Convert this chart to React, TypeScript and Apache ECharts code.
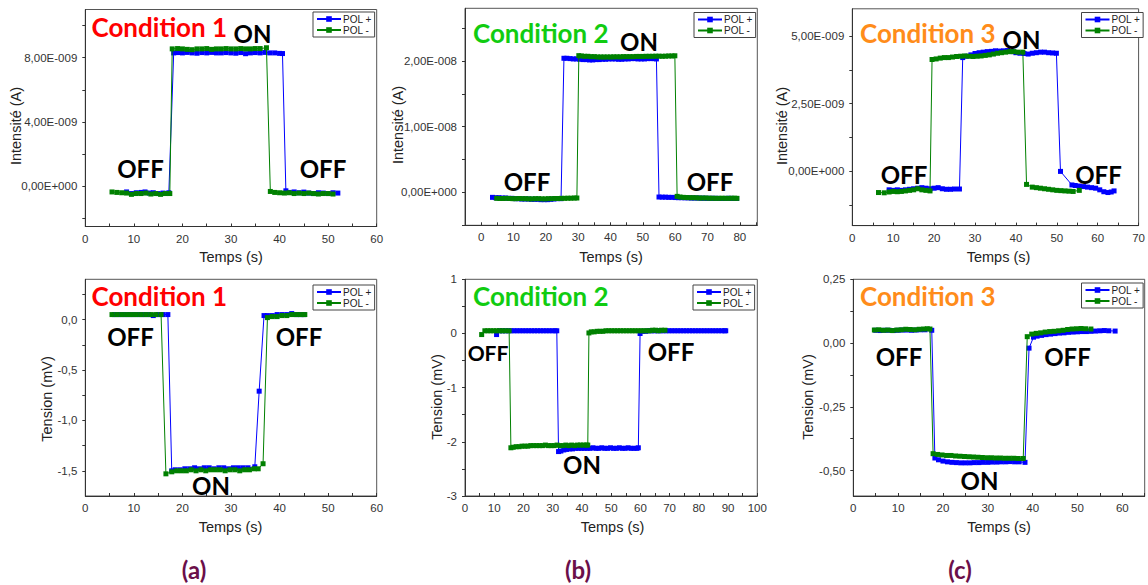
import React, { useEffect, useRef } from "react";
import * as echarts from "echarts";

// ---------- DATA (time in s; current in nA; voltage in mV) ----------
const NANO = 1e-9;

// Panel (a) top: Intensité, Condition 1
const a1PolPlus: number[][] = [
  [8.5, -0.35], [9.5, -0.45], [10.5, -0.4], [11.5, -0.38], [12.3, -0.35], [13.2, -0.42], [14.0, -0.4], [15.0, -0.45], [16.0, -0.42], [17.2, -0.4],
  [18.2, 8.3], [19, 8.32], [20, 8.3], [21, 8.33], [22, 8.3], [23, 8.28], [24, 8.32], [25, 8.3], [26, 8.33], [27, 8.3], [28, 8.3], [29, 8.32],
  [30, 8.3], [31, 8.28], [32, 8.32], [33, 8.25], [34, 8.3], [35, 8.32], [36, 8.3], [37, 8.33], [38, 8.3], [39, 8.3], [40, 8.27], [40.6, 8.26],
  [41.3, -0.28], [42, -0.38], [43, -0.35], [44, -0.4], [45, -0.36], [46, -0.42], [47, -0.45], [48, -0.4], [49, -0.42], [50, -0.45], [51, -0.4], [52, -0.42],
];
const a1PolMinus: number[][] = [
  [5.5, -0.35], [6.5, -0.38], [7.5, -0.4], [8.5, -0.42], [9.5, -0.5], [10.5, -0.45], [11.5, -0.45], [12.5, -0.42], [13.5, -0.48], [14.5, -0.45], [15.5, -0.5], [16.5, -0.45], [17.4, -0.45],
  [17.9, 8.55], [19, 8.57], [20, 8.55], [21, 8.52], [22, 8.5], [23, 8.55], [24, 8.55], [25, 8.57], [26, 8.52], [27, 8.55], [28, 8.55], [29, 8.57],
  [30, 8.55], [31, 8.55], [32, 8.57], [33, 8.55], [34, 8.55], [35, 8.57], [36, 8.57], [37.3, 8.62],
  [38.1, -0.32], [39, -0.38], [40, -0.4], [41, -0.42], [42, -0.4], [43, -0.45], [44, -0.42], [45, -0.45], [46, -0.42], [47, -0.45], [48, -0.48], [49, -0.45], [50, -0.45], [51, -0.48],
];

// Panel (b) top: Intensité, Condition 2
const b1PolPlus: number[][] = [
  [3.5, -0.75], [4.5, -0.8], [5.5, -0.8], [6.5, -0.85], [7.5, -0.85], [8.5, -0.9], [9.5, -0.9], [10.5, -0.95], [11.5, -0.95], [12.5, -1.0], [13.5, -1.0],
  [14.5, -1.0], [15.5, -1.05], [16.5, -1.05], [17.5, -1.05], [18.5, -1.1], [19.5, -1.1], [20.5, -1.1], [21.5, -1.05], [22.5, -1.0], [23.5, -0.95], [24.7, -0.95],
  [25.6, 20.4], [26.5, 20.4], [27.5, 20.35], [28.5, 20.3], [29.5, 20.3], [30.5, 20.25], [31.5, 20.2], [32.5, 20.2], [33.5, 20.15], [34.5, 20.15], [35.5, 20.2],
  [36.5, 20.2], [37.5, 20.25], [38.5, 20.25], [39.5, 20.3], [40.5, 20.3], [41.5, 20.3], [42.5, 20.25], [43.5, 20.25], [44.5, 20.3], [45.5, 20.3], [46.5, 20.35],
  [47.5, 20.35], [48.5, 20.3], [49.5, 20.3], [50.5, 20.3], [51.5, 20.35], [52.5, 20.35], [53.5, 20.35], [54.2, 20.3],
  [55.0, -0.7], [56, -0.72], [57, -0.72], [58, -0.75], [59, -0.75], [60, -0.78], [61, -0.8], [62, -0.8], [63, -0.82], [64, -0.82], [65, -0.85], [66, -0.85],
  [67, -0.85], [68, -0.88], [69, -0.88], [70, -0.9], [71, -0.9], [72, -0.9], [73, -0.9], [74, -0.92], [75, -0.92], [76, -0.9], [77, -0.9], [78, -0.92], [79, -0.92],
];
const b1PolMinus: number[][] = [
  [4.8, -0.9], [5.8, -0.92], [6.8, -0.92], [7.8, -0.9], [8.8, -0.92], [9.8, -0.95], [10.8, -0.95], [11.8, -0.92], [12.8, -0.95], [13.8, -0.95], [14.8, -0.98],
  [15.8, -0.98], [16.8, -0.95], [17.8, -0.95], [18.8, -0.98], [19.8, -0.98], [20.8, -0.95], [21.8, -0.95], [22.8, -0.92], [23.8, -0.92], [24.8, -0.9], [25.8, -0.9],
  [26.8, -0.88], [27.8, -0.88], [28.8, -0.85], [29.6, -0.85],
  [30.2, 20.8], [31, 20.75], [32, 20.7], [33, 20.7], [34, 20.65], [35, 20.65], [36, 20.6], [37, 20.6], [38, 20.6], [39, 20.6], [40, 20.6], [41, 20.62],
  [42, 20.62], [43, 20.62], [44, 20.65], [45, 20.65], [46, 20.65], [47, 20.65], [48, 20.68], [49, 20.68], [50, 20.68], [51, 20.7], [52, 20.7], [53, 20.7],
  [54, 20.72], [55, 20.72], [56, 20.7], [57, 20.72], [58, 20.75], [59, 20.75], [59.9, 20.78],
  [60.6, -0.6], [61.5, -0.7], [62.5, -0.75], [63.5, -0.78], [64.5, -0.8], [65.5, -0.8], [66.5, -0.82], [67.5, -0.85], [68.5, -0.85], [69.5, -0.85],
  [70.5, -0.88], [71.5, -0.88], [72.5, -0.9], [73.5, -0.9], [74.5, -0.88], [75.5, -0.9], [76.5, -0.9], [77.5, -0.88], [78.4, -0.88], [79.1, -0.9],
];

// Panel (c) top: Intensité, Condition 3
const c1PolPlus: number[][] = [
  [9.0, -0.68], [10, -0.7], [11, -0.68], [12, -0.7], [13, -0.68], [14, -0.66], [15, -0.64], [16, -0.62], [17, -0.6], [18, -0.62], [19, -0.64],
  [20, -0.62], [21, -0.6], [22, -0.64], [23, -0.66], [24, -0.66], [25, -0.65], [26.2, -0.65],
  [27.0, 4.2], [28, 4.25], [29, 4.3], [30, 4.35], [31, 4.38], [32, 4.4], [33, 4.42], [34, 4.43], [35, 4.45], [36, 4.44], [37, 4.45], [38, 4.46],
  [39, 4.42], [40, 4.38], [41, 4.36], [42, 4.35], [43, 4.33], [44, 4.36], [45, 4.38], [46, 4.4], [47, 4.4], [48, 4.38], [49, 4.37], [49.9, 4.36],
  [50.9, 0.0], [53.7, -0.5], [54.5, -0.52], [55.5, -0.54], [56.5, -0.56], [57.5, -0.58], [58.5, -0.6], [59.5, -0.62], [60.5, -0.68], [61.5, -0.75],
  [62.5, -0.78], [63.3, -0.76], [64.0, -0.72],
];
const c1PolMinus: number[][] = [
  [6.4, -0.78], [7.8, -0.79], [9, -0.76], [10, -0.74], [11, -0.75], [12, -0.74], [13, -0.72], [14, -0.7], [15, -0.68], [16, -0.64], [17, -0.68], [18, -0.7], [19, -0.72],
  [19.5, 4.13], [20.5, 4.15], [21.5, 4.18], [22.5, 4.2], [23.5, 4.2], [24.5, 4.22], [25.5, 4.24], [26.5, 4.25], [27.5, 4.26], [28.5, 4.25], [29.5, 4.24],
  [30.5, 4.25], [31.5, 4.26], [32.5, 4.28], [33.5, 4.3], [34.5, 4.33], [35.5, 4.36], [36.5, 4.38], [37.5, 4.4], [38.5, 4.42], [39.5, 4.42], [40.5, 4.4], [41.7, 4.4],
  [42.6, -0.48], [44, -0.58], [45, -0.6], [46, -0.62], [47, -0.64], [48, -0.66], [49, -0.68], [50, -0.7], [51, -0.71], [52, -0.72], [53, -0.73], [54, -0.74], [55.5, -0.7],
];

// Panel (a) bottom: Tension, Condition 1
const a2PolPlus: number[][] = [
  [6, 0.05], [7, 0.05], [8, 0.05], [9, 0.05], [10, 0.05], [11, 0.05], [12, 0.05], [13, 0.05], [14, 0.04], [15, 0.05], [16, 0.05], [17, 0.05],
  [17.8, -1.5], [18.5, -1.49], [19.5, -1.49], [20.5, -1.48], [21.5, -1.48], [22.5, -1.47], [23.5, -1.48], [24.5, -1.47], [25.5, -1.47], [26.5, -1.48],
  [27.5, -1.47], [28.5, -1.47], [29.5, -1.48], [30.5, -1.47], [31.5, -1.47], [32.5, -1.47], [33.5, -1.47], [34.9, -1.46],
  [35.8, -0.71], [36.8, 0.04], [37.5, 0.04], [38.5, 0.04], [39.5, 0.05], [40.5, 0.05], [41.5, 0.05], [42.5, 0.06], [43.5, 0.05], [44.3, 0.05], [45.0, 0.05],
];
const a2PolMinus: number[][] = [
  [5.5, 0.05], [6.5, 0.05], [7.5, 0.05], [8.5, 0.05], [9.5, 0.05], [10.5, 0.05], [11.5, 0.05], [12.5, 0.05], [13.5, 0.05], [14.5, 0.05], [15.6, 0.05],
  [16.6, -1.53], [17.8, -1.51], [18.8, -1.5], [19.8, -1.5], [20.8, -1.5], [21.8, -1.49], [22.8, -1.5], [23.8, -1.49], [24.8, -1.5], [25.8, -1.49],
  [26.8, -1.49], [27.8, -1.49], [28.8, -1.5], [29.8, -1.49], [30.8, -1.49], [31.8, -1.5], [32.8, -1.49], [33.8, -1.49], [34.8, -1.48], [35.6, -1.48],
  [36.6, -1.43], [37.5, 0.02], [38.5, 0.03], [39.5, 0.03], [40.5, 0.04], [41.5, 0.04], [42.5, 0.05], [43.5, 0.05], [44.5, 0.05], [45.2, 0.05],
];

// Panel (b) bottom: Tension, Condition 2
const b2PolPlus: number[][] = [
  [10.8, -0.02], [11.8, 0.05], [12.8, 0.05], [13.8, 0.05], [14.8, 0.05], [15.8, 0.05], [16.8, 0.05], [17.8, 0.05], [18.8, 0.05], [19.8, 0.05], [20.8, 0.05],
  [21.8, 0.05], [22.8, 0.05], [23.8, 0.05], [24.8, 0.05], [25.8, 0.05], [26.8, 0.05], [27.8, 0.05], [28.8, 0.05], [29.8, 0.05], [30.8, 0.05], [31.4, 0.05],
  [32.0, -2.18], [32.8, -2.17], [33.8, -2.15], [34.8, -2.14], [35.8, -2.13], [36.8, -2.13], [37.8, -2.12], [38.8, -2.12], [39.8, -2.12], [40.8, -2.12],
  [41.8, -2.12], [42.8, -2.12], [43.8, -2.11], [44.8, -2.12], [45.8, -2.12], [46.8, -2.11], [47.8, -2.12], [48.8, -2.12], [49.8, -2.11], [50.8, -2.12],
  [51.8, -2.12], [52.8, -2.11], [53.8, -2.12], [54.8, -2.12], [55.8, -2.11], [56.8, -2.12], [57.8, -2.12], [58.8, -2.12], [59.3, -2.11],
  [59.9, 0.0], [60.8, 0.04], [61.8, 0.04], [62.8, 0.05], [63.8, 0.05], [64.8, 0.05], [65.8, 0.05], [66.8, 0.05], [67.8, 0.05], [68.8, 0.05], [69.8, 0.05],
  [70.8, 0.05], [71.8, 0.05], [72.8, 0.05], [73.8, 0.05], [74.8, 0.05], [75.8, 0.05], [76.8, 0.05], [77.8, 0.05], [78.8, 0.05], [79.8, 0.05], [80.8, 0.05],
  [81.8, 0.05], [82.8, 0.05], [83.8, 0.05], [84.8, 0.05], [85.8, 0.05], [86.8, 0.05], [87.8, 0.05], [88.8, 0.05], [89.2, 0.05],
];
const b2PolMinus: number[][] = [
  [5.7, -0.02], [6.8, 0.05], [7.8, 0.05], [8.8, 0.05], [9.8, 0.05], [10.8, 0.05], [11.8, 0.05], [12.8, 0.05], [13.8, 0.05], [15.1, 0.05],
  [15.7, -2.11], [16.5, -2.1], [17.5, -2.09], [18.5, -2.09], [19.5, -2.08], [20.5, -2.08], [21.5, -2.08], [22.5, -2.07], [23.5, -2.07], [24.5, -2.07],
  [25.5, -2.07], [26.5, -2.07], [27.5, -2.06], [28.5, -2.07], [29.5, -2.07], [30.5, -2.07], [31.5, -2.06], [32.5, -2.07], [33.5, -2.07], [34.5, -2.06],
  [35.5, -2.07], [36.5, -2.06], [37.5, -2.07], [38.5, -2.06], [39.5, -2.06], [40.5, -2.06], [41.5, -2.06], [42.0, -2.06],
  [42.4, 0.01], [43.2, 0.03], [44.2, 0.03], [45.2, 0.04], [46.2, 0.04], [47.2, 0.04], [48.2, 0.05], [49.2, 0.05], [50.2, 0.05], [51.2, 0.05], [52.2, 0.05],
  [53.2, 0.05], [54.2, 0.05], [55.2, 0.05], [56.2, 0.05], [57.2, 0.05], [58.2, 0.05], [59.2, 0.05], [60.2, 0.05], [61.2, 0.05], [62.2, 0.05], [63.2, 0.05],
  [64.2, 0.06], [65.2, 0.06], [66.2, 0.05], [67.2, 0.06], [68.4, 0.06],
];

// Panel (c) bottom: Tension, Condition 3
const c2PolPlus: number[][] = [
  [5.0, 0.05], [6, 0.049], [7, 0.05], [8, 0.05], [9, 0.049], [10, 0.05], [11, 0.051], [12, 0.051], [13, 0.05], [14, 0.051], [15, 0.052], [16, 0.052], [17.5, 0.05],
  [18.2, -0.451], [19, -0.458], [20, -0.463], [21, -0.466], [22, -0.468], [23, -0.469], [24, -0.47], [25, -0.47], [26, -0.47], [27, -0.469], [28, -0.469],
  [29, -0.468], [30, -0.468], [31, -0.467], [32, -0.467], [33, -0.466], [34, -0.466], [35, -0.465], [36, -0.466], [37, -0.466], [38.3, -0.468],
  [39.2, -0.02], [40.2, 0.023], [41, 0.027], [42, 0.03], [43, 0.033], [44, 0.035], [45, 0.037], [46, 0.039], [47, 0.04], [48, 0.042], [49, 0.043],
  [50, 0.044], [51, 0.045], [52, 0.045], [53, 0.046], [54, 0.047], [55, 0.048], [56, 0.049], [57, 0.048], [58.4, 0.047],
];
const c2PolMinus: number[][] = [
  [4.7, 0.051], [5.7, 0.052], [6.7, 0.05], [7.7, 0.051], [8.7, 0.049], [9.7, 0.051], [10.7, 0.052], [11.7, 0.054], [12.7, 0.053], [13.7, 0.052],
  [14.7, 0.054], [15.7, 0.055], [16.5, 0.056], [17.1, 0.055],
  [17.8, -0.434], [18.8, -0.437], [19.8, -0.439], [20.8, -0.441], [21.8, -0.441], [22.8, -0.443], [23.8, -0.444], [24.8, -0.445], [25.8, -0.446],
  [26.8, -0.447], [27.8, -0.448], [28.8, -0.449], [29.8, -0.45], [30.8, -0.45], [31.8, -0.451], [32.8, -0.451], [33.8, -0.452], [34.8, -0.452],
  [35.8, -0.452], [36.8, -0.453], [37.9, -0.453],
  [38.8, 0.025], [39.8, 0.035], [40.8, 0.038], [41.8, 0.04], [42.8, 0.043], [43.8, 0.045], [44.8, 0.046], [45.8, 0.048], [46.8, 0.05], [47.8, 0.053],
  [48.8, 0.055], [49.8, 0.056], [50.8, 0.057], [51.8, 0.056], [53.0, 0.055],
];

// ---------- TICKS ----------
const xLabels60 = [0, 10, 20, 30, 40, 50, 60];
const xTicks60 = [0, 5, 10, 15, 20, 25, 30, 35, 40, 45, 50, 55, 60];
const xTicks65 = [0, 5, 10, 15, 20, 25, 30, 35, 40, 45, 50, 55, 60, 65];
const xLabels80 = [0, 10, 20, 30, 40, 50, 60, 70, 80];
const xTicks85 = [-5, 0, 5, 10, 15, 20, 25, 30, 35, 40, 45, 50, 55, 60, 65, 70, 75, 80, 85];
const xLabels70 = [0, 10, 20, 30, 40, 50, 60, 70];
const xTicks70 = [0, 5, 10, 15, 20, 25, 30, 35, 40, 45, 50, 55, 60, 65, 70];
const xLabels100 = [0, 10, 20, 30, 40, 50, 60, 70, 80, 90, 100];
const xTicks100 = [0, 5, 10, 15, 20, 25, 30, 35, 40, 45, 50, 55, 60, 65, 70, 75, 80, 85, 90, 95, 100];

const yLabelsA1 = [0, 4e-9, 8e-9];
const yTicksA1 = [-2e-9, 0, 2e-9, 4e-9, 6e-9, 8e-9, 1e-8];
const yLabelsB1 = [0, 1e-8, 2e-8];
const yTicksB1 = [-5e-9, 0, 5e-9, 1e-8, 1.5e-8, 2e-8, 2.5e-8];
const yLabelsC1 = [0, 2.5e-9, 5e-9];
const yTicksC1 = [-1.25e-9, 0, 1.25e-9, 2.5e-9, 3.75e-9, 5e-9];
const yLabelsA2 = [0, -0.5, -1, -1.5];
const yTicksA2 = [0.25, 0, -0.25, -0.5, -0.75, -1, -1.25, -1.5];
const yLabelsB2 = [1, 0, -1, -2, -3];
const yTicksB2 = [1, 0.5, 0, -0.5, -1, -1.5, -2, -2.5, -3];
const yLabelsC2 = [0.25, 0, -0.25, -0.5];
const yTicksC2 = [0.25, 0.125, 0, -0.125, -0.25, -0.375, -0.5];

const seriesNames = ["POL +", "POL -"];

// ---------- helpers ----------
function eFmt(v: number): string {
  if (Math.abs(v) < 1e-20) return "0,00E+000";
  let e = Math.floor(Math.log10(Math.abs(v)) + 1e-9);
  let m = v / Math.pow(10, e);
  if (Math.abs(m) >= 9.995) { m /= 10; e += 1; }
  const exp = String(Math.abs(e)).padStart(3, "0");
  return m.toFixed(2).replace(".", ",") + "E" + (e < 0 ? "-" : "+") + exp;
}
const fixedFmt = (d: number) => (v: number) =>
  (Math.abs(v) < 1e-12 ? 0 : v).toFixed(d).replace(".", ",");
const toAmp = (arr: number[][]) => arr.map(([x, y]) => [x, y * NANO]);

const BLUE = "#0000ff";
const GREEN = "#008000";
const AX = "#333333";
const LABEL_FONT = "'Liberation Sans', Arial, sans-serif";
const BIG_FONT = "Lato, 'Open Sans', sans-serif";

type Panel = {
  plus: number[][];
  minus: number[][];
  grid: { left: number; top: number; width: number; height: number };
  x: { min: number; max: number; labels: number[]; ticks: number[] };
  y: { min: number; max: number; labels: number[]; ticks: number[]; fmt: (v: number) => string };
  legend: { left: number; top: number };
};

const panels: Panel[] = [
  {
    plus: toAmp(a1PolPlus), minus: toAmp(a1PolMinus),
    grid: { left: 85.3, top: 9.5, width: 291.4, height: 217 },
    x: { min: 0, max: 60, labels: xLabels60, ticks: xTicks60 },
    y: { min: -2.5e-9, max: 1.1e-8, labels: yLabelsA1, ticks: yTicksA1, fmt: eFmt },
    legend: { left: 313, top: 12 },
  },
  {
    plus: toAmp(b1PolPlus), minus: toAmp(b1PolMinus),
    grid: { left: 465, top: 8.3, width: 292.3, height: 217 },
    x: { min: -5, max: 85.4, labels: xLabels80, ticks: xTicks85 },
    y: { min: -5e-9, max: 2.8e-8, labels: yLabelsB1, ticks: yTicksB1, fmt: eFmt },
    legend: { left: 694, top: 12.5 },
  },
  {
    plus: toAmp(c1PolPlus), minus: toAmp(c1PolMinus),
    grid: { left: 852.3, top: 8.8, width: 292.2, height: 216.8 },
    x: { min: 0, max: 70, labels: xLabels70, ticks: xTicks70 },
    y: { min: -2e-9, max: 6e-9, labels: yLabelsC1, ticks: yTicksC1, fmt: eFmt },
    legend: { left: 1081.5, top: 12.5 },
  },
  {
    plus: a2PolPlus, minus: a2PolMinus,
    grid: { left: 85.3, top: 279.3, width: 291.4, height: 216.7 },
    x: { min: 0, max: 60, labels: xLabels60, ticks: xTicks60 },
    y: { min: -1.75, max: 0.4, labels: yLabelsA2, ticks: yTicksA2, fmt: fixedFmt(1) },
    legend: { left: 313, top: 285 },
  },
  {
    plus: b2PolPlus, minus: b2PolMinus,
    grid: { left: 465, top: 279.3, width: 292.3, height: 216.7 },
    x: { min: 0, max: 100, labels: xLabels100, ticks: xTicks100 },
    y: { min: -3, max: 1, labels: yLabelsB2, ticks: yTicksB2, fmt: fixedFmt(0) },
    legend: { left: 693, top: 285 },
  },
  {
    plus: c2PolPlus, minus: c2PolMinus,
    grid: { left: 853.3, top: 279.3, width: 291.4, height: 216.7 },
    x: { min: 0, max: 65, labels: xLabels60, ticks: xTicks65 },
    y: { min: -0.6, max: 0.25, labels: yLabelsC2, ticks: yTicksC2, fmt: fixedFmt(2) },
    legend: { left: 1081.5, top: 283 },
  },
];

// annotation texts
const conditionTexts = [
  { text: "Condition 1", color: "#ff0000", x: 91.5, y: 27 },
  { text: "Condition 2", color: "#11cc11", x: 473, y: 33 },
  { text: "Condition 3", color: "#ff8c1a", x: 860, y: 33 },
  { text: "Condition 1", color: "#ff0000", x: 91.5, y: 295.5 },
  { text: "Condition 2", color: "#11cc11", x: 473, y: 295.5 },
  { text: "Condition 3", color: "#ff8c1a", x: 860, y: 296 },
];
const stateTexts = [
  { text: "ON", x: 252.5, y: 33.5 },
  { text: "OFF", x: 140.5, y: 168.5 },
  { text: "OFF", x: 323, y: 168.5 },
  { text: "ON", x: 639, y: 41.5 },
  { text: "OFF", x: 527, y: 181.5 },
  { text: "OFF", x: 710, y: 181.5 },
  { text: "ON", x: 1021.5, y: 39.5 },
  { text: "OFF", x: 904, y: 174 },
  { text: "OFF", x: 1098.5, y: 174 },
  { text: "OFF", x: 130.5, y: 336 },
  { text: "OFF", x: 299, y: 336 },
  { text: "ON", x: 211, y: 485.5 },
  { text: "OFF", x: 488, y: 352, size: 21 },
  { text: "OFF", x: 671, y: 351.5 },
  { text: "ON", x: 582, y: 464.5 },
  { text: "OFF", x: 899, y: 356.5 },
  { text: "OFF", x: 1067.5, y: 356.5 },
  { text: "ON", x: 979.5, y: 480.5 },
];
const yTitles = [
  { text: "Intensité (A)", x: 16, y: 126 },
  { text: "Intensité (A)", x: 397.5, y: 125 },
  { text: "Intensité (A)", x: 781.7, y: 126 },
  { text: "Tension (mV)", x: 46.7, y: 399 },
  { text: "Tension (mV)", x: 436.5, y: 397 },
  { text: "Tension (mV)", x: 808.3, y: 397 },
];
const xTitles = [
  { text: "Temps (s)", x: 231, y: 257 },
  { text: "Temps (s)", x: 611, y: 257 },
  { text: "Temps (s)", x: 998.5, y: 257 },
  { text: "Temps (s)", x: 230.5, y: 527 },
  { text: "Temps (s)", x: 612.5, y: 527 },
  { text: "Temps (s)", x: 999, y: 527 },
];
const subLabels = [
  { text: "(a)", x: 194, y: 569 },
  { text: "(b)", x: 578, y: 569 },
  { text: "(c)", x: 960, y: 569 },
];

function buildOption() {
  const grid = panels.map((p) => ({
    ...p.grid,
    show: true,
    borderColor: "#555",
    borderWidth: 1,
    backgroundColor: "transparent",
    containLabel: false,
  }));
  const xAxis = panels.map((p, i) => ({
    type: "value",
    gridIndex: i,
    min: p.x.min,
    max: p.x.max,
    axisLine: { show: true, onZero: false, lineStyle: { color: AX, width: 1 } },
    axisTick: { show: true, inside: true, length: 3, customValues: p.x.ticks, lineStyle: { color: AX } },
    axisLabel: {
      customValues: p.x.labels,
      fontSize: 11.5,
      color: "#333",
      fontFamily: LABEL_FONT,
      margin: 6,
      formatter: (v: number) => String(v),
    },
    splitLine: { show: false },
  }));
  const yAxis = panels.map((p, i) => ({
    type: "value",
    gridIndex: i,
    min: p.y.min,
    max: p.y.max,
    axisLine: { show: true, onZero: false, lineStyle: { color: AX, width: 1 } },
    axisTick: { show: true, inside: false, length: 3, customValues: p.y.ticks, lineStyle: { color: AX } },
    axisLabel: {
      customValues: p.y.labels,
      fontSize: 11.5,
      color: "#333",
      fontFamily: LABEL_FONT,
      margin: 8,
      formatter: p.y.fmt,
    },
    splitLine: { show: false },
  }));
  const series: any[] = [];
  panels.forEach((p, i) => {
    [p.plus, p.minus].forEach((data, k) => {
      const c = k === 0 ? BLUE : GREEN;
      series.push({
        type: "line",
        name: seriesNames[k],
        xAxisIndex: i,
        yAxisIndex: i,
        data,
        symbol: "rect",
        symbolSize: 5,
        showSymbol: true,
        showAllSymbol: true,
        lineStyle: { color: c, width: 1 },
        itemStyle: { color: c },
        emphasis: { disabled: true },
        z: 2 + k,
      });
    });
  });
  const legend = panels.map((p) => ({
    show: true,
    left: p.legend.left,
    top: p.legend.top,
    orient: "vertical",
    itemGap: 1,
    itemWidth: 24,
    itemHeight: 7,
    padding: [2, 3, 2, 3],
    borderColor: "#444",
    borderWidth: 1,
    borderRadius: 0,
    backgroundColor: "#fff",
    selectedMode: false,
    data: seriesNames,
    textStyle: { fontSize: 10, color: "#222", fontFamily: LABEL_FONT, padding: [0, 0, 0, -3] },
  }));

  const graphic: any[] = [];
  conditionTexts.forEach((t) =>
    graphic.push({
      type: "text", x: t.x, y: t.y, z: 10,
      style: { text: t.text, fill: t.color, font: `bold 26px ${BIG_FONT}`, align: "left", verticalAlign: "middle" },
    })
  );
  stateTexts.forEach((t: any) =>
    graphic.push({
      type: "text", x: t.x, y: t.y, z: 10,
      style: { text: t.text, fill: "#000", font: `bold ${t.size || 24}px ${BIG_FONT}`, align: "center", verticalAlign: "middle" },
    })
  );
  yTitles.forEach((t) =>
    graphic.push({
      type: "text", x: t.x, y: t.y, rotation: Math.PI / 2, z: 10,
      style: { text: t.text, fill: "#222", font: `14.5px ${LABEL_FONT}`, align: "center", verticalAlign: "middle" },
    })
  );
  xTitles.forEach((t) =>
    graphic.push({
      type: "text", x: t.x, y: t.y, z: 10,
      style: { text: t.text, fill: "#222", font: `14.5px ${LABEL_FONT}`, align: "center", verticalAlign: "middle" },
    })
  );
  subLabels.forEach((t) =>
    graphic.push({
      type: "text", x: t.x, y: t.y, z: 10,
      style: { text: t.text, fill: "#6b0f4a", font: `bold 24px ${BIG_FONT}`, align: "center", verticalAlign: "middle" },
    })
  );

  return {
    animation: false,
    backgroundColor: "#ffffff",
    grid,
    xAxis,
    yAxis,
    series,
    legend,
    graphic,
    tooltip: { show: false },
  };
}

export default function App() {
  const ref = useRef<HTMLDivElement | null>(null);
  useEffect(() => {
    if (!ref.current) return;
    const chart = echarts.init(ref.current, undefined, { renderer: "svg" });
    chart.setOption(buildOption() as any);
    return () => chart.dispose();
  }, []);
  return (
    <div
      ref={ref}
      style={{ position: "absolute", left: 0, top: 0, width: 1148, height: 585, background: "#fff" }}
    />
  );
}
